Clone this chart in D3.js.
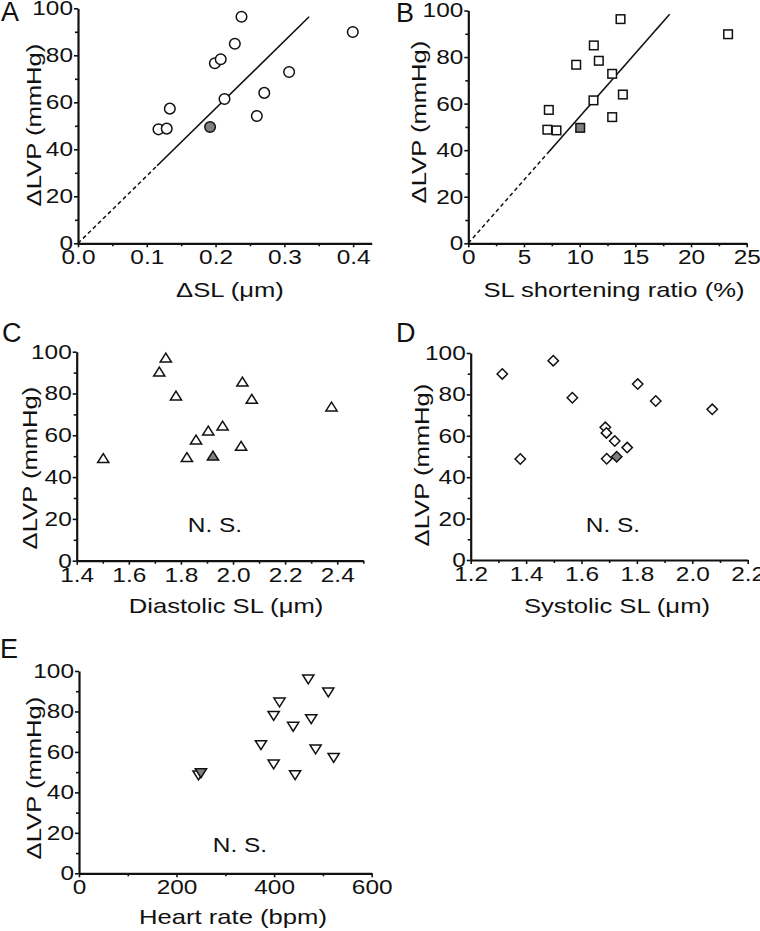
<!DOCTYPE html>
<html>
<head>
<meta charset="utf-8">
<script src="https://cdn.jsdelivr.net/npm/d3@7/dist/d3.min.js"></script>
<style>
  html, body { margin: 0; padding: 0; background: #fff; }
  svg text { font-family: "Liberation Sans", Arial, Helvetica, sans-serif; fill: #111; }
</style>
</head>
<body>
<svg id="chart" width="760" height="931"></svg>
<script>
// ---------------- DATA ----------------
// Panel A: ΔSL (µm) vs ΔLVP (mmHg)
const aOpenX = [0.117, 0.129, 0.1335, 0.199, 0.2075, 0.213, 0.228, 0.2377, 0.260, 0.2708, 0.3069, 0.3995];
const aOpenY = [48.5, 48.8, 57.3, 76.6, 78.3, 61.4, 84.9, 96.4, 54.2, 64.0, 72.9, 89.9];
const aFillX = [0.192];
const aFillY = [49.5];
const aFitX = [0, 0.115, 0.336];   // dashed to 2nd point, solid after
const aFitY = [0, 33.0, 96.4];
const aXTicks = [0, 0.1, 0.2, 0.3, 0.4];
const aXMinor = [0.05, 0.15, 0.25, 0.35];

// Panel B: SL shortening ratio (%) vs ΔLVP
const bOpenX = [7.10, 7.23, 7.92, 9.69, 11.27, 11.72, 11.24, 12.92, 12.92, 13.67, 13.88, 23.33];
const bOpenY = [48.8, 57.3, 48.5, 76.7, 85.0, 78.4, 61.4, 72.8, 54.2, 96.3, 63.9, 89.8];
const bFillX = [10.05];
const bFillY = [49.6];
const bFitX = [0, 7.1, 18.08];
const bFitY = [0, 38.6, 98.4];
const bXTicks = [0, 5, 10, 15, 20, 25];
const bXMinor = [2.5, 7.5, 12.5, 17.5, 22.5];

// Panel C: Diastolic SL (µm) vs ΔLVP
const cOpenX = [1.502, 1.717, 1.742, 1.781, 1.823, 1.858, 1.905, 1.960, 2.031, 2.036, 2.072, 2.378];
const cOpenY = [49.0, 90.4, 97.1, 78.9, 49.5, 57.9, 62.2, 64.6, 54.9, 85.6, 77.4, 73.7];
const cFillX = [1.923];
const cFillY = [50.2];
const cXTicks = [1.4, 1.6, 1.8, 2.0, 2.2, 2.4];
const cXMinor = [1.5, 1.7, 1.9, 2.1, 2.3, 2.5];

// Panel D: Systolic SL (µm) vs ΔLVP
const dOpenX = [1.314, 1.379, 1.498, 1.567, 1.686, 1.690, 1.691, 1.720, 1.765, 1.803, 1.868, 2.072];
const dOpenY = [89.9, 48.8, 96.3, 78.4, 64.1, 61.4, 48.9, 57.5, 54.3, 85.0, 76.8, 72.8];
const dFillX = [1.727];
const dFillY = [49.9];
const dXTicks = [1.2, 1.4, 1.6, 1.8, 2.0, 2.2];
const dXMinor = [1.3, 1.5, 1.7, 1.9, 2.1];

// Panel E: Heart rate (bpm) vs ΔLVP
const eOpenX = [245, 373, 399, 399, 411, 439, 443, 470, 476, 485, 511, 522];
const eOpenY = [48.5, 63.4, 53.9, 77.9, 84.5, 72.5, 48.6, 95.9, 76.3, 61.3, 89.5, 57.1];
const eFillX = [250];
const eFillY = [49.5];
const eXTicks = [0, 200, 400, 600];
const eXMinor = [100, 300, 500];

const yTicks = [0, 20, 40, 60, 80, 100];
const yMinor = [10, 30, 50, 70, 90];
const yTitle = "ΔLVP (mmHg)";

// ---------------- DRAWING ----------------
const svg = d3.select("#chart");
const TEXT_STRETCH = 1.22;

function stretch(sel, f) {
  sel.each(function () {
    const L = this.getComputedTextLength();
    if (L > 0) d3.select(this).attr("textLength", L * f).attr("lengthAdjust", "spacingAndGlyphs");
  });
}

function zip(xs, ys) { return xs.map((x, i) => ({ x: x, y: ys[i] })); }

const shapes = {
  circle: (g, s) => g.append("circle").attr("r", 5.3),
  square: (g, s) => g.append("rect").attr("x", -4.3).attr("y", -4.3).attr("width", 8.6).attr("height", 8.6),
  triUp: (g, s) => g.append("path").attr("d", "M-5.6,4.3L5.6,4.3L0,-4.6Z"),
  diamond: (g, s) => g.append("path").attr("d", "M0,-5.2L5.2,0L0,5.2L-5.2,0Z"),
  triDown: (g, s) => g.append("path").attr("d", "M-5.6,-4.3L5.6,-4.3L0,4.6Z")
};

function panel(cfg) {
  const g = svg.append("g");
  const x = d3.scaleLinear().domain(cfg.xDomain).range(cfg.xRange);
  const y = d3.scaleLinear().domain([0, 100]).range(cfg.yRange);
  const x0 = cfg.xRange[0], y0 = cfg.yRange[0];

  // minor ticks
  g.append("g").attr("transform", `translate(0,${y0})`)
    .call(d3.axisBottom(x).tickValues(cfg.xMinor).tickSize(3).tickFormat(""))
    .call(a => a.select(".domain").remove())
    .selectAll("line").attr("stroke", "#111").attr("stroke-width", 1.6);
  g.append("g").attr("transform", `translate(${x0},0)`)
    .call(d3.axisLeft(y).tickValues(yMinor).tickSize(3).tickFormat(""))
    .call(a => a.select(".domain").remove())
    .selectAll("line").attr("stroke", "#111").attr("stroke-width", 1.6);

  // major axes
  const xa = g.append("g").attr("transform", `translate(0,${y0})`)
    .call(d3.axisBottom(x).tickValues(cfg.xTicks).tickSize(4).tickSizeOuter(0).tickPadding(3).tickFormat(d3.format(cfg.xFmt)));
  const ya = g.append("g").attr("transform", `translate(${x0},0)`)
    .call(d3.axisLeft(y).tickValues(yTicks).tickSize(4).tickSizeOuter(0).tickPadding(1).tickFormat(d3.format("d")));
  [xa, ya].forEach(a => {
    a.select(".domain").attr("stroke", "#111").attr("stroke-width", 2.2);
    a.selectAll(".tick line").attr("stroke", "#111").attr("stroke-width", 1.6);
    a.selectAll(".tick text").attr("font-size", 20).attr("fill", "#111")
      .style("font-family", '"Liberation Sans", Arial, sans-serif');
    stretch(a.selectAll(".tick text"), TEXT_STRETCH);
  });

  // fit line
  if (cfg.fitX) {
    const pts = zip(cfg.fitX, cfg.fitY);
    const line = d3.line().x(d => x(d.x)).y(d => y(d.y));
    g.append("path").attr("d", line(pts.slice(0, 2))).attr("fill", "none")
      .attr("stroke", "#111").attr("stroke-width", 1.5).attr("stroke-dasharray", "4,3");
    g.append("path").attr("d", line(pts.slice(1))).attr("fill", "none")
      .attr("stroke", "#111").attr("stroke-width", 1.6);
  }

  // points
  function drawPts(data, fill) {
    data.forEach(d => {
      const m = g.append("g").attr("transform", `translate(${x(d.x)},${y(d.y)})`);
      shapes[cfg.shape](m).attr("fill", fill).attr("stroke", "#111").attr("stroke-width", 1.5);
    });
  }
  drawPts(zip(cfg.openX, cfg.openY), "#fff");
  drawPts(zip(cfg.fillX, cfg.fillY), "#808080");

  // titles
  const xt = g.append("text").attr("x", cfg.xTitlePos[0]).attr("y", cfg.xTitlePos[1])
    .attr("text-anchor", "middle").attr("font-size", 21).text(cfg.xTitle);
  stretch(xt, TEXT_STRETCH);
  const yt = g.append("text").attr("transform", `translate(${cfg.yTitlePos[0]},${cfg.yTitlePos[1]}) rotate(-90)`)
    .attr("text-anchor", "middle").attr("font-size", 21).text(yTitle);
  stretch(yt, TEXT_STRETCH);
  const lt = g.append("text").attr("x", cfg.letterPos[0]).attr("y", cfg.letterPos[1])
    .attr("font-size", 27).text(cfg.letter);
  if (cfg.nsPos) {
    const ns = g.append("text").attr("x", cfg.nsPos[0]).attr("y", cfg.nsPos[1])
      .attr("text-anchor", "middle").attr("font-size", 20).text("N. S.");
    stretch(ns, TEXT_STRETCH);
  }
}

panel({
  letter: "A", letterPos: [1, 21],
  xDomain: [0, 0.427], xRange: [78, 371.7], yRange: [243.3, 8.3],
  xTicks: aXTicks, xMinor: aXMinor, xFmt: ".1f",
  openX: aOpenX, openY: aOpenY, fillX: aFillX, fillY: aFillY,
  fitX: aFitX, fitY: aFitY, shape: "circle",
  xTitle: "ΔSL (μm)", xTitlePos: [230, 297], yTitlePos: [41, 125]
});
panel({
  letter: "B", letterPos: [396, 22],
  xDomain: [0, 25], xRange: [468.3, 746.7], yRange: [243.3, 10.5],
  xTicks: bXTicks, xMinor: bXMinor, xFmt: "d",
  openX: bOpenX, openY: bOpenY, fillX: bFillX, fillY: bFillY,
  fitX: bFitX, fitY: bFitY, shape: "square",
  xTitle: "SL shortening ratio (%)", xTitlePos: [614, 297], yTitlePos: [426, 122]
});
panel({
  letter: "C", letterPos: [2, 342],
  xDomain: [1.4, 2.5], xRange: [76.7, 363.3], yRange: [560.7, 351.7],
  xTicks: cXTicks, xMinor: cXMinor, xFmt: ".1f",
  openX: cOpenX, openY: cOpenY, fillX: cFillX, fillY: cFillY,
  shape: "triUp",
  xTitle: "Diastolic SL (μm)", xTitlePos: [226, 613], yTitlePos: [37, 468],
  nsPos: [215, 532]
});
panel({
  letter: "D", letterPos: [396, 342],
  xDomain: [1.2, 2.2], xRange: [470.7, 747.7], yRange: [560, 353],
  xTicks: dXTicks, xMinor: dXMinor, xFmt: ".1f",
  openX: dOpenX, openY: dOpenY, fillX: dFillX, fillY: dFillY,
  shape: "diamond",
  xTitle: "Systolic SL (μm)", xTitlePos: [617, 613], yTitlePos: [429, 465],
  nsPos: [613, 532]
});
panel({
  letter: "E", letterPos: [0, 658],
  xDomain: [0, 600], xRange: [79, 371.7], yRange: [873.3, 671],
  xTicks: eXTicks, xMinor: eXMinor, xFmt: "d",
  openX: eOpenX, openY: eOpenY, fillX: eFillX, fillY: eFillY,
  shape: "triDown",
  xTitle: "Heart rate (bpm)", xTitlePos: [233, 924], yTitlePos: [41, 778],
  nsPos: [240, 852]
});
</script>
</body>
</html>
